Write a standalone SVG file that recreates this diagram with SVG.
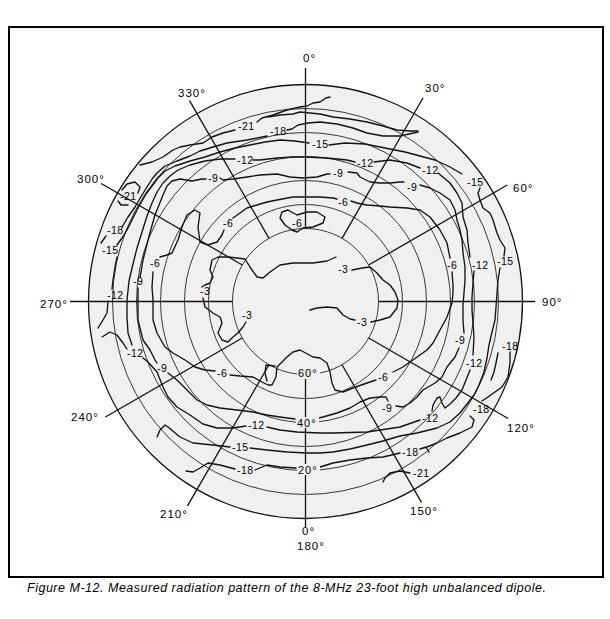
<svg xmlns="http://www.w3.org/2000/svg" width="610" height="619" viewBox="0 0 610 619">
<style>
.frame{fill:none;stroke:#000;stroke-width:2}
.disc{fill:#f0f0f0;stroke:#111;stroke-width:1.3}
.ring{fill:none;stroke:#222;stroke-width:0.9}
.rad{fill:none;stroke:#111;stroke-width:1.3}
.ct{fill:none;stroke:#111;stroke-width:1.35;stroke-linejoin:round;stroke-linecap:round}
.deg{font-family:"Liberation Sans",Arial,sans-serif;font-size:11.5px;letter-spacing:1px;fill:#000}
.elev{font-family:"Liberation Sans",Arial,sans-serif;font-size:11px;letter-spacing:1px;fill:#000}
.lab{font-family:"Liberation Sans",Arial,sans-serif;font-size:10.5px;letter-spacing:0.5px;fill:#000}
.cap{font-family:"Liberation Sans",Arial,sans-serif;font-size:12.5px;font-style:italic;fill:#000}
.bg{fill:#f0f0f0}
</style>
<rect id="frame" class="frame" x="9" y="27" width="594" height="550"/>
<g id="plot">
<circle class="disc" cx="305.5" cy="301.5" r="217"/>
<g id="rings">
<circle class="ring" cx="305.5" cy="301.5" r="193"/>
<circle class="ring" cx="305.5" cy="301.5" r="169"/>
<circle class="ring" cx="305.5" cy="301.5" r="145"/>
<circle class="ring" cx="305.5" cy="301.5" r="121"/>
<circle class="ring" cx="305.5" cy="301.5" r="97"/>
<circle class="ring" cx="305.5" cy="301.5" r="73"/>
</g>
</g>
<g id="connectors">
<line class="rad" x1="305.5" y1="228.5" x2="305.5" y2="68"/>
<line class="rad" x1="342" y1="238.3" x2="423" y2="98"/>
<line class="rad" x1="368.7" y1="265" x2="507.3" y2="185"/>
<line class="rad" x1="378.5" y1="301.5" x2="535" y2="301.5"/>
<line class="rad" x1="368.7" y1="338" x2="508.1" y2="418.5"/>
<line class="rad" x1="342" y1="364.7" x2="421.5" y2="502.4"/>
<line class="rad" x1="305.5" y1="379" x2="305.5" y2="527"/>
<line class="rad" x1="269" y1="364.7" x2="187.5" y2="505.9"/>
<line class="rad" x1="242.3" y1="338" x2="105.4" y2="417"/>
<line class="rad" x1="232.5" y1="301.5" x2="70" y2="301.5"/>
<line class="rad" x1="242.3" y1="265" x2="101.1" y2="183.5"/>
<line class="rad" x1="269" y1="238.3" x2="189.5" y2="100.6"/>
</g>
<g id="contours">
<path id="c3a" class="ct" d="M336,257 L327,261 L313,263 L293,263 L280,265 L270,272 L263,278 L257,277 L250,267 L245,259 L237,258 L228,257 L218,257 L212,260 L210,270 L213,277 L210,283 L205,285 L202,287 M203,298 L205,307 L213,313 L220,317 L222,323 L218,333 L222,340 L228,342 L233,337 L238,333 L243,327 L246,322"/>
<path id="c3b" class="ct" d="M352,270 L362,268 L370,267 L377,273 L383,280 L390,285 L395,292 L398,300 L397,308 L390,317 L380,320 L371,322"/>
<path id="c3c" class="ct" d="M355,320 L350,319 L343,315 L337,308 L327,307 L317,308 L310,310"/>
<path id="c6i" class="ct" d="M282,212 L288,210 L297,215 L307,212 L317,212 L325,217 L323,223 L313,227 L303,228 L297,232 L292,230 L285,225 L280,218 Z"/>
<path id="c6" class="ct" d="M351,201 L357,203 L367,205 L380,206 L390,207 L407,208 L420,210 L430,217 L440,230 L447,243 L450,258 M452,272 L453,285 L453,293 L452,303 L447,317 L440,330 L433,343 L427,350 L420,355 L410,362 L403,367 L393,372 M376,380 L367,383 L353,388 L343,392 L335,390 L332,383 L330,372 L327,363 L320,358 L313,357 L300,350 L293,352 L287,357 L277,367 L276,377 L272,385 L268,385 L262,382 L253,377 L240,376 L230,375 M215,371 L205,370 L195,367 L185,360 L173,353 L165,347 L157,333 L153,320 L153,300 L152,287 L153,272 M160,257 L167,255 L172,253 L178,240 L182,227 L187,215 L195,210 L200,213 L198,227 L200,242 L208,245 L217,242 L222,235 L224,230 M233,218 L240,213 L247,208 L257,205 L267,202 L277,200 L293,197 L303,197 L320,197 L333,198 L337,199 M266,365 L275,366 M266,365 L265,373 L267,381"/>
<path id="c9" class="ct" d="M206,179 L202,179 L192,181 L180,179 L172,181 L167,186 L163,195 L159,205 L155,215 L151,229 L147,244 L143,260 L141,272 L140,277 M138,288 L138,303 L138,320 L143,340 L150,350 L155,360 L157,363 M168,373 L177,380 L187,390 L197,400 L207,405 L220,408 L237,410 L253,412 L267,415 L280,417 L295,419 M319,418 L323,417 L337,413 L350,408 L360,402 L370,398 L380,397 L386,397 L388,401 M396,406 L403,407 L410,403 L417,397 L423,390 L435,383 L442,377 L447,367 L455,357 L459,348 M464,333 L463,320 L463,305 L464,293 L465,280 L465,267 L463,253 L462,240 L460,230 L457,220 L455,210 L450,200 L440,193 L430,188 L420,185 M404,182 L400,182 L390,183 L380,183 L370,182 L360,177 L357,173 L348,172 M330,174 L327,174 L317,177 L303,178 L290,177 L277,174 L260,175 L247,177 L233,179 L223,180 L220,178"/>
<path id="c12" class="ct" d="M253,160 L260,160 L277,158 L293,157 L306,157 L327,158 L347,160 L355,162 M374,162 L390,160 L407,163 L420,168 M438,173 L450,183 L457,193 L462,203 L463,217 L467,230 L468,243 L470,257 M474,271 L473,283 L472,297 L472,310 L473,323 L474,337 L473,355 M470,370 L466,380 L462,390 L456,398 L450,404 L445,408 L442,403 L440,397 L437,398 L433,405 L432,411 M420,420 L400,427 L367,432 L333,433 L320,433 L297,432 L280,430 L267,427 M246,426 L233,428 L217,428 L203,424 L190,415 L177,407 L168,397 L163,387 L157,372 L148,362 L143,358 M132,345 L128,333 L127,317 L127,300 L129,281 L133,264 L137,248 L142,232 L147,216 L152,203 L157,192 L163,183 L170,176 L178,170 L190,165 L205,161 L220,159 L235,159"/>
<path id="c12b" class="ct" d="M117,257 L115,267 L113,280 L112,289 M108,301 L107,313 L103,320 L98,328 M102,337 L110,332 L117,335 L123,343 L127,349"/>
<path id="c15" class="ct" d="M117,245 L122,238 L127,230 L132,220 L138,208 L146,194 L152,186 L158,178 L165,171 L175,166 L190,161 L205,157 L220,152 L235,148 L250,145 L265,142 L280,140 L295,141 L309,143 M329,145 L345,143 L365,144 L385,148 L405,152 L420,156 L435,160 L450,167 L462,174 M480,188 L478,193 L480,200 L483,208 L490,213 L493,220 L497,233 L500,240 L505,248 L504,256 M500,268 L498,280 L497,293 L496,307 L495,320 L492,332 L489,345 L487,358 L484,372 L479,385 L474,395 L467,404 L460,413 L450,422 L437,428 L417,433 L400,436 L383,441 L367,445 L350,449 L333,452 L320,453 L307,453 L287,452 L267,450 L250,448 M230,447 L213,445 L193,443 L180,437 L168,427 L165,425 L160,430 L157,437"/>
<path id="c18" class="ct" d="M122,227 L128,217 L135,207 L142,195 L147,187 L152,179 L157,173 L165,166 L177,161 L190,156 L200,151 L213,147 L227,143 L247,140 L267,136 M106,236 L101,243 M287,130 L292,129 L298,125 L308,123 L320,122 L337,124 L353,128 L367,133 L383,136 L400,136 L418,132 M498,353 L496,363 L494,372 L491,380 M510,352 L510,363 L508,377 L502,387 L495,392 L488,397 L482,401 M470,416 L474,420 L472,427 L460,433 L447,438 L437,443 L427,447 L420,449 L426,447 L429,452 M186,471 L193,472 L200,468 L208,463 L220,465 L235,469 M255,470 L267,465 L280,467 L296,468 M320,467 L333,463 L350,460 L367,458 L383,457 L400,453"/>
<path id="cB" class="ct" d="M268,117 L280,115 L293,114 L300,112 L320,114 L333,117 L350,119 L367,122 L383,126 L397,130 L410,131 L418,131"/>
<path id="c21" class="ct" d="M140,165 L152,162 L163,157 L173,150 L180,147 L190,145 L203,143 L212,137 L223,133 L235,130 M257,122 L262,118 L273,115 L287,110 L300,107 L307,106 L313,103 L320,102 L326,98 L330,97 M138,193 L140,187 L135,182 L127,184 L122,190 M118,201 L121,205 L128,205 M410,473 L400,471 L390,473 L385,478 L383,482"/>
</g>
<g id="elevation-labels">
<rect class="bg" x="297" y="367" width="23" height="11"/>
<rect class="bg" x="296" y="417" width="23" height="11"/>
<rect class="bg" x="297" y="464" width="23" height="11"/>
<text class="elev" x="298" y="377">60°</text>
<text class="elev" x="297" y="427">40°</text>
<text class="elev" x="298" y="474">20°</text>
</g>
<g id="azimuth-labels">
<text class="deg" x="303" y="62">0°</text>
<text class="deg" x="425" y="92">30°</text>
<text class="deg" x="513" y="192">60°</text>
<text class="deg" x="542" y="306">90°</text>
<text class="deg" x="507" y="432">120°</text>
<text class="deg" x="410" y="515">150°</text>
<text class="deg" x="302" y="535">0°</text>
<text class="deg" x="297" y="550">180°</text>
<text class="deg" x="160" y="518">210°</text>
<text class="deg" x="71" y="421">240°</text>
<text class="deg" x="40" y="308">270°</text>
<text class="deg" x="77" y="183">300°</text>
<text class="deg" x="178" y="97">330°</text>
</g>
<g id="contour-labels">
<text class="lab" x="238" y="130">-21</text>
<text class="lab" x="270" y="135">-18</text>
<text class="lab" x="312" y="148">-15</text>
<text class="lab" x="237" y="164">-12</text>
<text class="lab" x="357" y="167">-12</text>
<text class="lab" x="422" y="174">-12</text>
<text class="lab" x="208" y="182">-9</text>
<text class="lab" x="333" y="177">-9</text>
<text class="lab" x="407" y="191">-9</text>
<text class="lab" x="467" y="186">-15</text>
<text class="lab" x="120" y="200">-21</text>
<text class="lab" x="338" y="206">-6</text>
<text class="lab" x="223" y="227">-6</text>
<text class="lab" x="292" y="227">-6</text>
<text class="lab" x="107" y="234">-18</text>
<text class="lab" x="102" y="254">-15</text>
<text class="lab" x="150" y="267">-6</text>
<text class="lab" x="133" y="285">-9</text>
<text class="lab" x="107" y="299">-12</text>
<text class="lab" x="200" y="295">-3</text>
<text class="lab" x="338" y="273">-3</text>
<text class="lab" x="447" y="269">-6</text>
<text class="lab" x="472" y="269">-12</text>
<text class="lab" x="497" y="265">-15</text>
<text class="lab" x="242" y="319">-3</text>
<text class="lab" x="357" y="326">-3</text>
<text class="lab" x="455" y="344">-9</text>
<text class="lab" x="502" y="350">-18</text>
<text class="lab" x="127" y="357">-12</text>
<text class="lab" x="466" y="367">-12</text>
<text class="lab" x="157" y="372">-9</text>
<text class="lab" x="217" y="377">-6</text>
<text class="lab" x="378" y="381">-6</text>
<text class="lab" x="382" y="412">-9</text>
<text class="lab" x="473" y="413">-18</text>
<text class="lab" x="422" y="422">-12</text>
<text class="lab" x="248" y="429">-12</text>
<text class="lab" x="232" y="451">-15</text>
<text class="lab" x="402" y="456">-18</text>
<text class="lab" x="237" y="474">-18</text>
<text class="lab" x="413" y="477">-21</text>
</g>
<text id="caption" class="cap" x="27" y="592" textLength="519" lengthAdjust="spacing">Figure M-12. Measured radiation pattern of the 8-MHz 23-foot high unbalanced dipole.</text>
</svg>
